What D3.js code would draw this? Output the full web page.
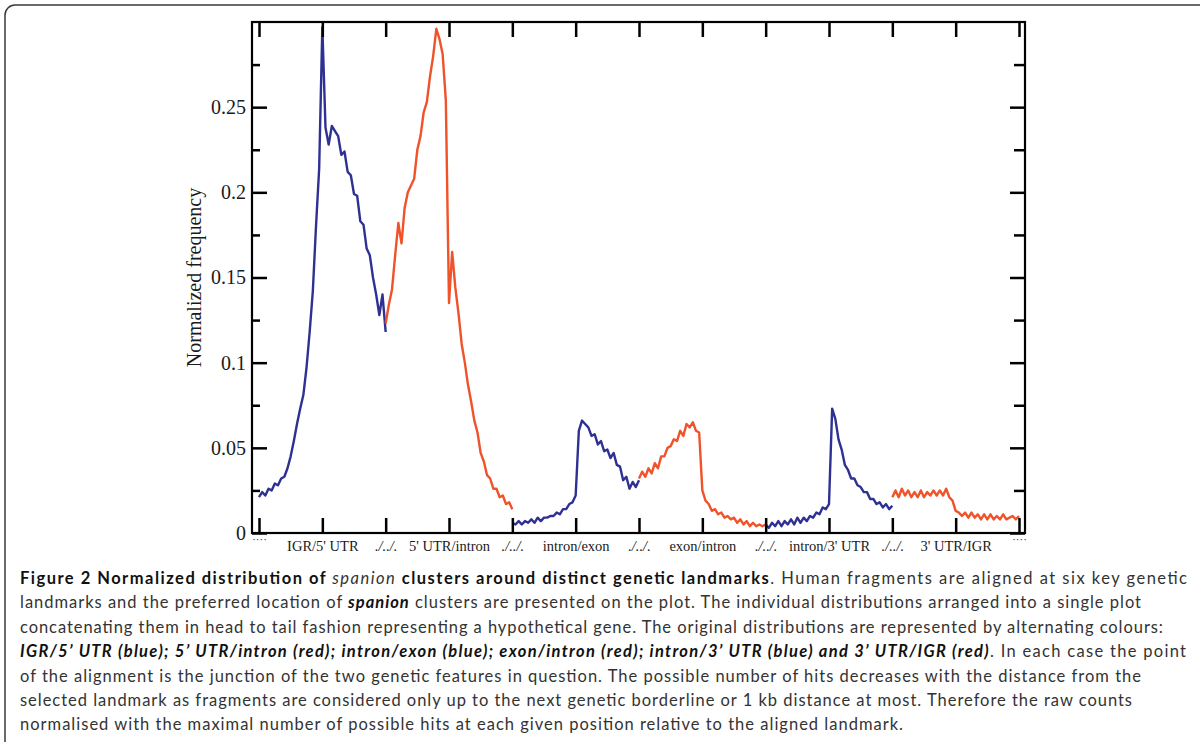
<!DOCTYPE html>
<html>
<head>
	<meta charset="utf-8">
	<script src="https://cdnjs.cloudflare.com/ajax/libs/d3/7.8.5/d3.min.js"></script>
	<style>
	body { margin:0; background:#fff; }
	svg { display:block; }
	.serif { font-family:"Liberation Serif", "Times New Roman", serif; fill:#1a1a1a; }
	.caption { font-family:Lato, "Open Sans", sans-serif; font-size:16.5px; fill:#333; }
	.caption .b { font-weight:bold; fill:#111; }
	</style>
</head>
<body>
<script>

// landmarks along the hypothetical gene, one per tick
var xLabels = ['····', 'IGR/5\' UTR', './../.', '5\' UTR/intron', './../.', 'intron/exon', './../.',
	'exon/intron', './../.', 'intron/3\' UTR', './../.', '3\' UTR/IGR', '····'];
var yMajor = [0, 0.05, 0.1, 0.15, 0.2, 0.25];
var yMinor = [0.025, 0.075, 0.125, 0.175, 0.225, 0.275];

// normalized frequency, sampled every 0.05 tick units, one distribution per landmark
var step = 0.05;
var igr5utr = [0.021,0.024,0.022,0.026,0.025,0.029,0.028,0.032,0.033,0.038,0.045,0.054,0.064,0.073,0.081,0.097,0.118,0.142,0.180,0.214,
	0.297,0.238,0.228,0.239,0.236,0.233,0.222,0.224,0.212,0.210,0.199,0.198,0.183,0.181,0.167,0.163,0.150,0.140,0.128,0.140,0.118];
var utr5intron = [0.123,0.134,0.143,0.163,0.182,0.170,0.191,0.200,0.204,0.208,0.225,0.233,0.247,0.253,0.268,0.280,0.296,0.290,0.281,0.254,
	0.135,0.165,0.144,0.129,0.111,0.100,0.087,0.077,0.066,0.059,0.047,0.042,0.034,0.032,0.026,0.026,0.021,0.022,0.017,0.018,0.014];
var intronExon = [0.006,0.005,0.007,0.005,0.007,0.006,0.008,0.006,0.009,0.007,0.009,0.009,0.010,0.010,0.012,0.011,0.014,0.014,0.017,0.018,
	0.022,0.060,0.066,0.064,0.062,0.057,0.058,0.052,0.054,0.048,0.049,0.044,0.047,0.040,0.039,0.031,0.033,0.026,0.030,0.027,0.031];
var exonIntron = [0.032,0.036,0.033,0.038,0.035,0.041,0.038,0.045,0.045,0.050,0.051,0.055,0.054,0.060,0.057,0.064,0.062,0.065,0.060,0.059,
	0.025,0.019,0.017,0.013,0.014,0.011,0.012,0.009,0.010,0.008,0.009,0.006,0.008,0.005,0.007,0.004,0.006,0.004,0.005,0.004,0.005];
var intron3utr = [0.005,0.003,0.006,0.004,0.007,0.004,0.007,0.005,0.008,0.005,0.009,0.006,0.009,0.007,0.010,0.009,0.012,0.011,0.015,0.014,
	0.017,0.073,0.067,0.055,0.049,0.040,0.037,0.032,0.032,0.028,0.027,0.024,0.024,0.020,0.020,0.017,0.018,0.015,0.017,0.014,0.016];
var utr3igr = [0.021,0.025,0.021,0.026,0.022,0.025,0.021,0.024,0.021,0.025,0.021,0.024,0.022,0.025,0.022,0.025,0.022,0.026,0.021,0.019,
	0.013,0.012,0.010,0.012,0.009,0.012,0.009,0.011,0.008,0.011,0.008,0.011,0.008,0.010,0.008,0.011,0.008,0.009,0.010,0.008,0.010];

var series = [igr5utr, utr5intron, intronExon, exonIntron, intron3utr, utr3igr];
var seriesStart = [0, 2, 4, 6, 8, 10];

var blue = '#2e3192', red = '#f0522a';

var width = 1200, height = 742;
var plot = {left:252, right:1025, top:22, bottom:533};

var svg = d3.select('body').append('svg').attr('width', width).attr('height', height);

// outer figure border
svg.append('rect').attr('x', 5).attr('y', 5).attr('width', 1210).attr('height', 780).attr('rx', 10)
	.attr('fill', 'none').attr('stroke', '#3a3a3a').attr('stroke-width', 1.5);

var x = d3.scaleLinear().domain([0, 12]).range([plot.left + 7, plot.right - 6]);
var y = d3.scaleLinear().domain([0, 0.3]).range([plot.bottom, plot.top]);

svg.append('clipPath').attr('id', 'clip').append('rect')
	.attr('x', plot.left).attr('y', plot.top).attr('width', plot.right - plot.left).attr('height', plot.bottom - plot.top);

var line = d3.line()
	.x(function (d) { return x(d[0]); })
	.y(function (d) { return y(d[1]); });

var curves = svg.append('g').attr('clip-path', 'url(#clip)');
series.forEach(function (vals, k) {
	var pts = vals.map(function (v, i) { return [seriesStart[k] + i * step, v]; });
	curves.append('path').datum(pts)
		.attr('d', line)
		.attr('fill', 'none')
		.attr('stroke', k % 2 == 0 ? blue : red)
		.attr('stroke-width', 2.4)
		.attr('stroke-linejoin', 'round');
});

// axes, ticks pointing inwards
function styleAxis(g) {
	g.select('.domain').remove();
	g.selectAll('.tick line').attr('stroke', '#000').attr('stroke-width', 2.5);
}

svg.append('g').attr('transform', 'translate(0,' + plot.bottom + ')')
	.call(d3.axisBottom(x).tickValues(d3.range(13)).tickSizeInner(-15).tickSizeOuter(0).tickPadding(8)
		.tickFormat(function (i) { return xLabels[i]; }))
	.call(styleAxis)
	.call(function (g) {
		g.selectAll('text').attr('class', 'serif').attr('font-size', 14.5).attr('font-family', null)
			.style('font-style', function (d) { return xLabels[d] == './../.' ? 'italic' : 'normal'; })
			.filter(function (d) { return xLabels[d] == '····'; })
			.attr('font-size', 11).attr('y', 2).attr('fill', '#777');
	});

svg.append('g').attr('transform', 'translate(0,' + plot.top + ')')
	.call(d3.axisTop(x).tickValues(d3.range(13)).tickSizeInner(-15).tickSizeOuter(0).tickFormat(''))
	.call(styleAxis);

svg.append('g').attr('transform', 'translate(' + plot.left + ',0)')
	.call(d3.axisLeft(y).tickValues(yMajor).tickSizeInner(-15).tickSizeOuter(0).tickPadding(6)
		.tickFormat(d3.format('')))
	.call(styleAxis)
	.call(function (g) {
		g.selectAll('text').attr('class', 'serif').attr('font-size', 20).attr('font-family', null);
	});

svg.append('g').attr('transform', 'translate(' + plot.left + ',0)')
	.call(d3.axisLeft(y).tickValues(yMinor).tickSizeInner(-8).tickSizeOuter(0).tickFormat(''))
	.call(styleAxis);

svg.append('g').attr('transform', 'translate(' + plot.right + ',0)')
	.call(d3.axisRight(y).tickValues(yMajor).tickSizeInner(-15).tickSizeOuter(0).tickFormat(''))
	.call(styleAxis);

svg.append('g').attr('transform', 'translate(' + plot.right + ',0)')
	.call(d3.axisRight(y).tickValues(yMinor).tickSizeInner(-11).tickSizeOuter(0).tickFormat(''))
	.call(styleAxis);

svg.append('rect').attr('x', plot.left).attr('y', plot.top)
	.attr('width', plot.right - plot.left).attr('height', plot.bottom - plot.top)
	.attr('fill', 'none').attr('stroke', '#000').attr('stroke-width', 2.2);

svg.append('text').attr('class', 'serif').attr('font-size', 20)
	.attr('transform', 'translate(201,' + ((plot.top + plot.bottom) / 2) + ') rotate(-90)')
	.attr('text-anchor', 'middle')
	.text('Normalized frequency');

// caption
var captionLines = [
	[['b', 'Figure 2 Normalized distribution of '], ['i', 'spanion'], ['b', ' clusters around distinct genetic landmarks'], ['', '. Human fragments are aligned at six key genetic']],
	[['', 'landmarks and the preferred location of '], ['bi', 'spanion'], ['', ' clusters are presented on the plot. The individual distributions arranged into a single plot']],
	[['', 'concatenating them in head to tail fashion representing a hypothetical gene. The original distributions are represented by alternating colours:']],
	[['bi', 'IGR/5\u2019 UTR (blue); 5\u2019 UTR/intron (red); intron/exon (blue); exon/intron (red); intron/3\u2019 UTR (blue) and 3\u2019 UTR/IGR (red)'], ['', '. In each case the point']],
	[['', 'of the alignment is the junction of the two genetic features in question. The possible number of hits decreases with the distance from the']],
	[['', 'selected landmark as fragments are considered only up to the next genetic borderline or 1 kb distance at most. Therefore the raw counts']],
	[['', 'normalised with the maximal number of possible hits at each given position relative to the aligned landmark.']]
];
var captionEnds = [1187, 1141, 1163, 1186, 1141, 1132, 903];

captionLines.forEach(function (parts, i) {
	var t = svg.append('text').attr('class', 'caption')
		.attr('x', 20).attr('y', 584 + i * 24.4)
		.attr('textLength', captionEnds[i] - 20).attr('lengthAdjust', 'spacing');
	parts.forEach(function (p) {
		var s = t.append('tspan').text(p[1]);
		if (p[0].indexOf('b') >= 0) s.attr('class', 'b');
		if (p[0].indexOf('i') >= 0) s.style('font-style', 'italic');
	});
});

</script>
</body>
</html>
